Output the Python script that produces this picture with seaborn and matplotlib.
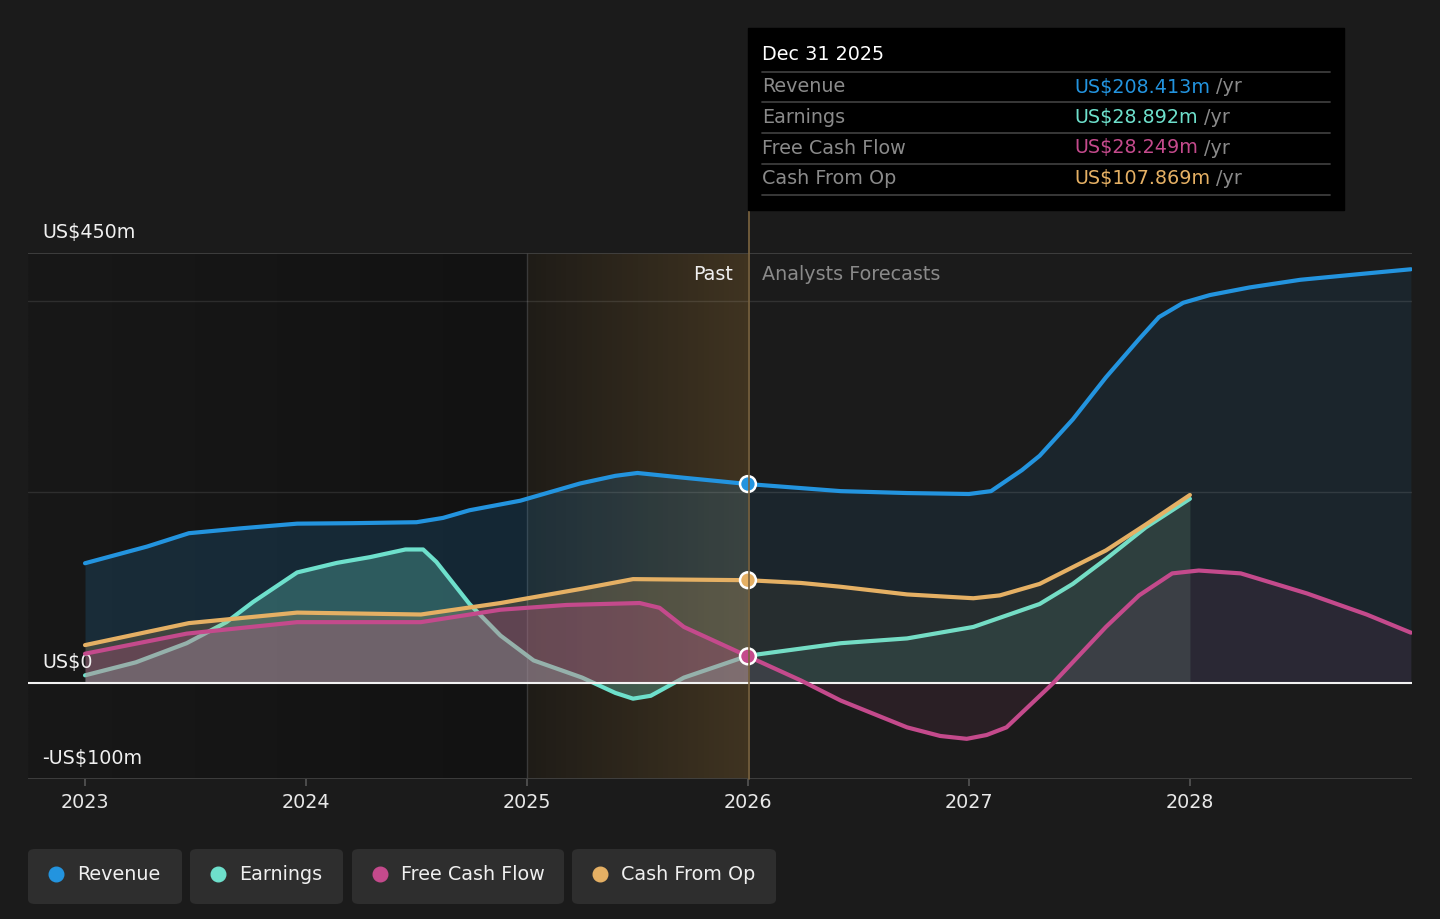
import numpy as np
import pandas as pd
import seaborn as sns
import matplotlib.pyplot as plt
from matplotlib.patches import FancyBboxPatch, Rectangle
from matplotlib.lines import Line2D

# --- data (US$ m) ---
series_names = ["Revenue", "Earnings", "Free Cash Flow", "Cash From Op"]
series_colors = ["#2394df", "#6ee0cc", "#c44a8c", "#e5b064"]

rev_x = [2023.0, 2023.28, 2023.47, 2023.7, 2023.96, 2024.21, 2024.5, 2024.62, 2024.74, 2024.97,
         2025.24, 2025.4, 2025.5, 2025.71, 2026.0, 2026.42, 2026.72, 2027.0, 2027.1, 2027.24,
         2027.32, 2027.47, 2027.62, 2027.77, 2027.86, 2027.97, 2028.09, 2028.27, 2028.5,
         2028.77, 2029.0]
rev_y = [125.6, 143, 157, 162, 167, 167.5, 168.5, 173, 181, 191,
         209, 217, 220, 215, 208.413, 201, 199, 198, 201, 223,
         238, 276, 320, 360, 383, 398, 406, 414, 422,
         428, 433]

earn_x = [2023.0, 2023.23, 2023.46, 2023.64, 2023.76, 2023.96, 2024.14, 2024.29, 2024.45,
          2024.53, 2024.59, 2024.74, 2024.88, 2025.03, 2025.25, 2025.4, 2025.48, 2025.56,
          2025.71, 2026.0, 2026.42, 2026.72, 2027.02, 2027.32, 2027.47, 2027.62, 2027.8, 2028.0]
earn_y = [8.4, 22, 42, 64, 85, 116, 126, 132, 140,
          140, 127, 83, 50, 24, 6, -10, -16, -13,
          6, 28.892, 42, 47, 59, 83, 104, 130, 163, 193]

fcf_x = [2023.0, 2023.46, 2023.96, 2024.52, 2024.88, 2025.18, 2025.51, 2025.6, 2025.71, 2026.0,
         2026.24, 2026.42, 2026.72, 2026.87, 2026.99, 2027.08, 2027.17, 2027.38, 2027.62,
         2027.77, 2027.92, 2028.04, 2028.23, 2028.53, 2028.8, 2029.0]
fcf_y = [31, 52, 64, 64, 77, 82, 84, 79, 59, 28.249,
         3, -18, -46, -55, -58, -54, -46, 0, 59,
         92, 115, 118, 115, 94, 72, 53]

cfo_x = [2023.0, 2023.47, 2023.96, 2024.52, 2024.88, 2025.25, 2025.48, 2026.0, 2026.24,
         2026.42, 2026.72, 2027.02, 2027.14, 2027.32, 2027.62, 2027.8, 2028.0]
cfo_y = [40, 63, 74, 72, 84, 99, 109, 107.869, 105,
         101, 93, 89, 92, 104, 139, 166, 197]

tooltip_date = "Dec 31 2025"
tooltip_values = ["US$208.413m", "US$28.892m", "US$28.249m", "US$107.869m"]
year_ticks = [2023, 2024, 2025, 2026, 2027, 2028]
y_labels = {450: "US$450m", 0: "US$0", -100: "-US$100m"}

BG = "#1b1b1b"
W, H = 1440, 919

sns.set_theme(style="dark", rc={"axes.facecolor": BG, "figure.facecolor": BG})
plt.rcParams["font.family"] = ["DejaVu Sans"]
FS = 13.8


def fx(px):
    return px / W


def fy(py):
    return 1 - py / H


fig = plt.figure(figsize=(W / 100, H / 100), dpi=100, facecolor=BG)
ax = fig.add_axes([fx(28), fy(779), 1384 / W, 526 / H])
ax.set_facecolor(BG)
x0, x1 = 2022.742, 2029.005

# past background gradient (slightly darker towards 2025)
g = np.linspace(0, 1, 256)
dark = np.zeros((2, 256, 3))
dark[...] = ((0x18 + (0x12 - 0x18) * g) / 255)[None, :, None]
ax.imshow(dark, extent=[x0, 2025, -100, 450], aspect="auto", zorder=0, interpolation="bilinear")
ax.axvspan(2025, 2026, color="#141414", lw=0, zorder=0.1)
gold = np.zeros((2, 256, 4))
gold[..., 0], gold[..., 1], gold[..., 2] = 0.83, 0.62, 0.30
gold[..., 3] = 0.06 + 0.17 * g
ax.imshow(gold, extent=[2025, 2026, -100, 450], aspect="auto", zorder=0.2, interpolation="bilinear")

# fills (past stronger, forecast weaker)
all_x = [rev_x, earn_x, fcf_x, cfo_x]
all_y = [rev_y, earn_y, fcf_y, cfo_y]
past_alpha = [0.17, 0.28, 0.26, 0.2]
fut_alpha = [0.09, 0.1, 0.09, 0.06]
fill_z = [1.0, 1.1, 2.5, 2.4]
for xs, ys, c, pa, fa, z in zip(all_x, all_y, series_colors, past_alpha, fut_alpha, fill_z):
    xs, ys = np.array(xs), np.array(ys)
    ax.fill_between(xs, ys, 0, where=xs <= 2026, color=c, alpha=pa, lw=0, zorder=z)
    ax.fill_between(xs, ys, 0, where=xs >= 2026, color=c, alpha=fa, lw=0, zorder=z)

# reference lines
ax.axhline(450, color="#444444", lw=1.2, zorder=2.6)
ax.axhline(-100, color="#444444", lw=1.2, zorder=2.6)
for v in (400, 200):
    ax.axhline(v, color=(1, 1, 1, 0.1), lw=1, zorder=2.6)
ax.axvline(2025, color="#3a3a3a", lw=1, zorder=0.3)
ax.axhline(0, color="#f2f2f2", lw=1.5, zorder=2.7)

# lines
line_z = [3.2, 2.0, 3.1, 3.3]
for name, xs, ys, c, z in zip(series_names, all_x, all_y, series_colors, line_z):
    df = pd.DataFrame({"year": xs, "value": ys})
    sns.lineplot(data=df, x="year", y="value", color=c, lw=3.0, sort=False,
                 estimator=None, ax=ax, zorder=z, solid_capstyle="round",
                 solid_joinstyle="round")

# markers at the tooltip date
mk = pd.DataFrame({"year": [2026.0, 2026.0, 2026.0],
                   "value": [rev_y[rev_x.index(2026.0)], cfo_y[cfo_x.index(2026.0)],
                             fcf_y[fcf_x.index(2026.0)]],
                   "s": ["Revenue", "Cash From Op", "Free Cash Flow"]})
sns.scatterplot(data=mk, x="year", y="value", hue="s",
                palette={"Revenue": series_colors[0], "Cash From Op": series_colors[3],
                         "Free Cash Flow": series_colors[2]},
                s=130, edgecolor="white", linewidth=1.8, legend=False, ax=ax, zorder=6)

ax.set_xlim(x0, x1)
ax.set_ylim(-100, 450)
for sp in ax.spines.values():
    sp.set_visible(False)
ax.set_xlabel("")
ax.set_ylabel("")
ax.set_yticks([])
ax.set_xticks(year_ticks)
ax.set_xticklabels([str(y) for y in year_ticks], color="#e8e8e8", fontsize=FS)
ax.tick_params(axis="x", length=5, width=1.2, color="#555555", pad=5, bottom=True)
ax.grid(False)

# y labels above their lines
for v, lab in y_labels.items():
    ax.annotate(lab, xy=(0, v), xycoords=("axes fraction", "data"), xytext=(10, 15),
                textcoords="offset points", color="#f0f0f0", fontsize=FS, va="center", ha="left")

ax.text(2026 - 0.066, 428, "Past", color="#f0f0f0", fontsize=FS, ha="right", va="center")
ax.text(2026 + 0.063, 428, "Analysts Forecasts", color="#8a8a8a", fontsize=FS, ha="left", va="center")

# 2026 divider extends up to the tooltip
fig.add_artist(Line2D([fx(748.5), fx(748.5)], [fy(210), fy(779)], color="#7d6540", lw=1.2, zorder=5))

# tooltip
fig.add_artist(Rectangle((fx(748), fy(210)), 596 / W, 182 / H, color="#000000", zorder=6))
fig.text(fx(762), fy(55), tooltip_date, color="white", fontsize=FS, va="center", zorder=7)
for yy in (72, 102, 133, 164, 195):
    fig.add_artist(Line2D([fx(762), fx(1330)], [fy(yy), fy(yy)], color="#3c3c3c", lw=1.3, zorder=7))
renderer = fig.canvas.get_renderer()
for i, (name, val, c) in enumerate(zip(series_names, tooltip_values, series_colors)):
    yy = fy(87 + i * 30.5)
    fig.text(fx(762), yy, name, color="#8a8a8a", fontsize=FS, va="center", zorder=7)
    t = fig.text(fx(1074), yy, val, color=c, fontsize=FS, va="center", zorder=7)
    bb = t.get_window_extent(renderer=renderer)
    fig.text(bb.x1 / W + fx(6), yy, "/yr", color="#8a8a8a", fontsize=FS, va="center", zorder=7)

# legend chips
chips = [(28, 182), (190, 343), (352, 564), (572, 776)]
for (l, r), name, c in zip(chips, series_names, series_colors):
    fig.add_artist(FancyBboxPatch((fx(l), fy(904)), (r - l) / W, 55 / H,
                                  boxstyle="round,pad=0,rounding_size=0.005",
                                  fc="#2e2e2e", ec="none", zorder=1))
    fig.add_artist(Line2D([fx(l + 28)], [fy(874)], marker="o", ms=10.5, color=c, lw=0, zorder=2))
    fig.text(fx(l + 49), fy(874), name, color="#f0f0f0", fontsize=FS, va="center", zorder=2)

fig.savefig("out.png", dpi=100, facecolor=BG)
